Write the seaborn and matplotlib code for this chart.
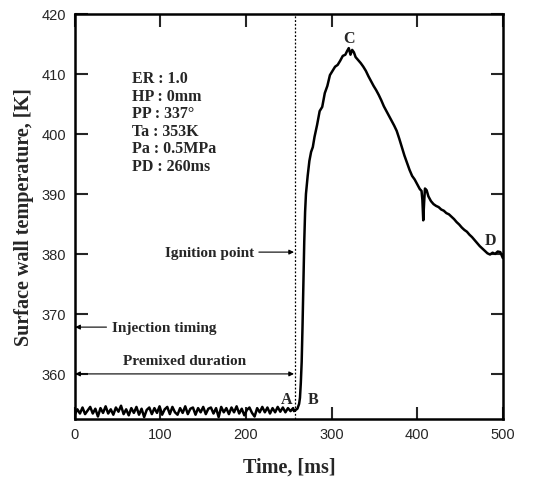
import numpy as np
import pandas as pd
import matplotlib
matplotlib.use("Agg")
import matplotlib.pyplot as plt
import seaborn as sns

# ---- data ----
base_t = list(range(0, 256, 3))
base_T = [353.2, 354.1, 353.4, 354.4, 353.3, 353.9, 354.5, 353.4, 354.2, 352.9,
          354.3, 353.5, 354.6, 353.4, 354.1, 353.2, 354.4, 353.7, 354.7, 353.3,
          354.1, 353.1, 354.3, 353.5, 354.5, 353.2, 354.2, 352.8, 354.0, 354.4,
          353.3, 354.3, 353.5, 354.6, 353.2, 354.1, 354.5, 353.3, 354.5, 353.6,
          353.2, 354.3, 353.5, 354.6, 353.3, 354.2, 354.4, 353.2, 354.3, 353.6,
          354.5, 353.3, 354.2, 354.4, 353.4, 354.3, 352.8, 354.5, 353.6, 354.3,
          353.3, 354.4, 353.6, 354.6, 353.4, 354.2, 353.1, 354.0, 354.4, 353.5,
          352.9, 354.3, 353.6, 354.5, 353.6, 354.4, 353.4, 354.3, 353.6, 354.5,
          353.7, 354.4, 353.6, 354.3, 353.8, 354.3]

comb_t = [256, 258, 260, 262, 263, 264, 265, 266, 267, 268, 269, 270, 272, 274, 276,
          278, 280, 283, 286, 289, 292, 295, 298, 301, 304, 307, 310, 313, 316, 318,
          320, 322, 324, 326, 328, 331, 334, 337, 340, 343, 346, 349, 352, 355, 358,
          361, 364, 367, 370, 373, 376, 379, 382, 385, 388, 391, 394, 397, 400, 403,
          405, 406, 407, 408, 409, 411, 413, 416, 419, 422, 425, 428, 431, 434, 437,
          440, 443, 446, 449, 452, 455, 458, 461, 464, 467, 470, 473, 476, 479, 482,
          485, 488, 491, 494, 497, 500]
comb_T = [353.8, 354.0, 354.2, 355.0, 356.0, 358.5, 362.0, 368.0, 375.0, 382.0,
          387.0, 390.0, 393.0, 395.5, 397.0, 397.8, 399.5, 401.5, 403.8, 404.5,
          406.8, 408.0, 409.8, 410.5, 411.2, 411.5, 412.2, 413.0, 413.2, 413.8,
          414.3, 413.2, 414.0, 413.6, 412.8, 412.3, 411.8, 411.2, 410.5, 409.6,
          408.8, 408.0, 407.3, 406.5, 405.6, 404.6, 403.8, 403.0, 402.2, 401.4,
          400.5, 399.2, 397.8, 396.4, 395.2, 394.0, 393.0, 392.4, 391.6, 390.8,
          390.5, 389.0, 385.6, 388.5, 390.9, 390.6, 389.6, 388.8, 388.3, 388.0,
          387.8, 387.4, 387.2, 386.8, 386.6, 386.2, 385.8, 385.3, 384.9, 384.4,
          384.0, 383.7, 383.2, 382.8, 382.3, 381.8, 381.3, 380.9, 380.5, 380.1,
          379.9, 380.2, 380.0, 380.4, 380.3, 379.3]

conditions = ["ER : 1.0", "HP : 0mm", "PP : 337\u00b0", "Ta : 353K", "Pa : 0.5MPa", "PD : 260ms"]
ignition_t = 257
x_ticks = [0, 100, 200, 300, 400, 500]
y_ticks = [360, 370, 380, 390, 400, 410, 420]

df = pd.DataFrame({"Time": base_t + comb_t, "Temp": base_T + comb_T})

# ---- plot ----
sns.set_theme(style="ticks")
plt.rcParams["font.family"] = ["Liberation Serif", "DejaVu Serif"]

fig = plt.figure(figsize=(5.46, 4.81), dpi=100)
ax = fig.add_axes([0.137, 0.127, 0.784, 0.842])

sns.lineplot(data=df, x="Time", y="Temp", ax=ax, color="black", lw=1.8,
             estimator=None, sort=True)

ax.set_xlim(0, 500)
ax.set_ylim(352.5, 420)
ax.set_xticks(x_ticks)
ax.set_yticks(y_ticks)
ax.tick_params(direction="in", length=9, width=1.5, top=True, right=True,
               labelsize=10.5, pad=6)
for lab in ax.get_xticklabels() + ax.get_yticklabels():
    lab.set_fontfamily("Liberation Sans")
for sp in ax.spines.values():
    sp.set_linewidth(1.8)
    sp.set_color("black")

ax.set_xlabel("Time, [ms]", fontsize=14.5, fontweight="bold", labelpad=11)
ax.set_ylabel("Surface wall temperature, [K]", fontsize=14.5, fontweight="bold", labelpad=6)

ax.axvline(ignition_t, color="black", lw=0.9, ls=(0, (1.5, 1.5)))

ax.text(67, 410.6, "\n".join(conditions), fontsize=11.5, fontweight="bold",
        va="top", ha="left", linespacing=1.12)

ax.text(320, 416.0, "C", fontsize=11.5, fontweight="bold", ha="center", va="center")
ax.text(485, 382.3, "D", fontsize=11.5, fontweight="bold", ha="center", va="center")
ax.text(247, 355.9, "A", fontsize=11.5, fontweight="bold", ha="center", va="center")
ax.text(278, 355.9, "B", fontsize=11.5, fontweight="bold", ha="center", va="center")

arrow = dict(arrowstyle="-|>", lw=0.8, color="black", mutation_scale=7,
             shrinkA=0, shrinkB=0)
ax.annotate("", xy=(ignition_t - 1, 380.3), xytext=(215, 380.3), arrowprops=arrow)
ax.text(210, 380.3, "Ignition point", fontsize=11, fontweight="bold",
        ha="right", va="center")

ax.annotate("", xy=(0.5, 367.8), xytext=(37, 367.8), arrowprops=arrow)
ax.text(44, 367.8, "Injection timing", fontsize=11, fontweight="bold",
        ha="left", va="center")

ax.annotate("", xy=(ignition_t - 1, 360), xytext=(0.5, 360),
            arrowprops=dict(arrowstyle="<|-|>", lw=0.8, color="black",
                            mutation_scale=7, shrinkA=0, shrinkB=0))
ax.text(128, 362.2, "Premixed duration", fontsize=11, fontweight="bold",
        ha="center", va="center")

fig.savefig("out.png", dpi=100)
